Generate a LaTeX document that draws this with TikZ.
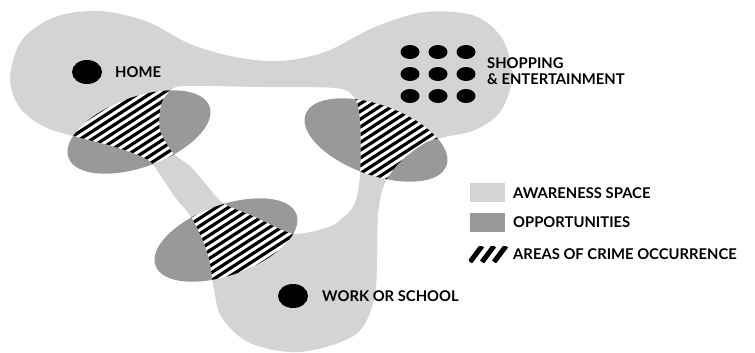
\documentclass[tikz,border=0pt]{standalone}
\usepackage{fontspec}
\setmainfont{Lato}
\usepackage{tikz}
\definecolor{awaregray}{gray}{0.83}
\definecolor{oppgray}{gray}{0.6}
\tikzstyle{aware}=[fill=awaregray,even odd rule]
\tikzstyle{opport}=[fill=oppgray]
\tikzstyle{stripe}=[draw=black,line width=3.2pt]
\tikzstyle{spot}=[fill=black]
\tikzstyle{txt}=[anchor=west,inner sep=0pt,font=\fontsize{14.8}{15.5}\selectfont\bfseries,align=left]
% awareness space: outer border and the hole in the middle
\newcommand{\awareouter}{plot[smooth cycle,tension=0.55] coordinates {
  (10,78) (22,40) (55,17) (100,11) (148,22) (190,44) (235,57) (280,61)
  (325,52) (375,27) (425,12) (475,16) (503,40) (512,78) (500,112) (475,130)
  (445,137) (425,143) (400,162) (384,185) (378,215) (377,260) (374,300)
  (355,335) (300,352) (250,343) (222,318) (214,290) (208,255) (193,220)
  (175,197) (162,178) (148,160) (115,147) (77,137) (45,127) (20,108)}}
\newcommand{\awarehole}{plot[smooth cycle,tension=0.5] coordinates {
  (185,86) (260,87) (335,88) (354,97) (360,120) (360,175) (354,205)
  (335,224) (310,232) (290,233) (255,217) (223,203) (205,183) (190,166)
  (173,153) (160,130) (161,105) (170,91)}}

\begin{document}
\begin{tikzpicture}[x=1pt,y=-1pt]
        \useasboundingbox (0,0) rectangle (755,353);
        \fill[aware] \awareouter \awarehole;
        % opportunities
        \fill[opport,shift={(139,132)},rotate=20] (0,0) ellipse [x radius=75,y radius=35];
        \fill[opport,shift={(376,140)},rotate=-20] (0,0) ellipse [x radius=75,y radius=35];
        \fill[opport,shift={(226,240)},rotate=20] (0,0) ellipse [x radius=75,y radius=35];
        % crime areas = opportunities inside awareness space
        \begin{scope}[even odd rule]
          \clip[shift={(139,132)},rotate=20] (0,0) ellipse [x radius=75,y radius=35];
          \clip \awareouter \awarehole;
          \fill[white] (0,0) rectangle (755,353);
          \begin{scope}[shift={(139,132)},rotate=33]
            \foreach \k in {-16,...,16} \draw[stripe] (-110,\k*6.5) -- (110,\k*6.5);
          \end{scope}
        \end{scope}
        \begin{scope}[even odd rule]
          \clip[shift={(376,140)},rotate=-20] (0,0) ellipse [x radius=75,y radius=35];
          \clip \awareouter \awarehole;
          \fill[white] (0,0) rectangle (755,353);
          \begin{scope}[shift={(376,140)},rotate=33]
            \foreach \k in {-16,...,16} \draw[stripe] (-110,\k*6.5) -- (110,\k*6.5);
          \end{scope}
        \end{scope}
        \begin{scope}[even odd rule]
          \clip[shift={(226,240)},rotate=20] (0,0) ellipse [x radius=75,y radius=35];
          \clip \awareouter \awarehole;
          \fill[white] (0,0) rectangle (755,353);
          \begin{scope}[shift={(226,240)},rotate=33]
            \foreach \k in {-16,...,16} \draw[stripe] (-110,\k*6.5) -- (110,\k*6.5);
          \end{scope}
        \end{scope}
        % places
        \fill[spot] (87,72) ellipse [x radius=15,y radius=12];
        \fill[spot] (293,296) ellipse [x radius=15,y radius=12];
        \fill[spot] (410,52) ellipse [x radius=9.5,y radius=7];
        \fill[spot] (438,52) ellipse [x radius=9.5,y radius=7];
        \fill[spot] (466,52) ellipse [x radius=9.5,y radius=7];
        \fill[spot] (410,74) ellipse [x radius=9.5,y radius=7];
        \fill[spot] (438,74) ellipse [x radius=9.5,y radius=7];
        \fill[spot] (466,74) ellipse [x radius=9.5,y radius=7];
        \fill[spot] (410,96) ellipse [x radius=9.5,y radius=7];
        \fill[spot] (438,96) ellipse [x radius=9.5,y radius=7];
        \fill[spot] (466,96) ellipse [x radius=9.5,y radius=7];
        \node[txt] (home) at (115,72) {HOME};
        \node[txt] (shop) at (487,71) {SHOPPING\\\& ENTERTAINMENT};
        \node[txt] (work) at (322,296) {WORK OR SCHOOL};
        % legend
        \fill[awaregray] (470,183) rectangle (505,202);
        \fill[oppgray] (470,213) rectangle (505,232);
        \begin{scope}
          \clip (469,246) rectangle (508,262);
          \draw[line width=5pt] (470,262) -- (482,246);
          \draw[line width=5pt] (482,262) -- (494,246);
          \draw[line width=5pt] (494,262) -- (506,246);
        \end{scope}
        \node[txt] (legaware) at (513,193) {AWARENESS SPACE};
        \node[txt] (legopp) at (513,222) {OPPORTUNITIES};
        \node[txt] (legcrime) at (513,254) {AREAS OF CRIME OCCURRENCE};
      \end{tikzpicture}
\end{document}
